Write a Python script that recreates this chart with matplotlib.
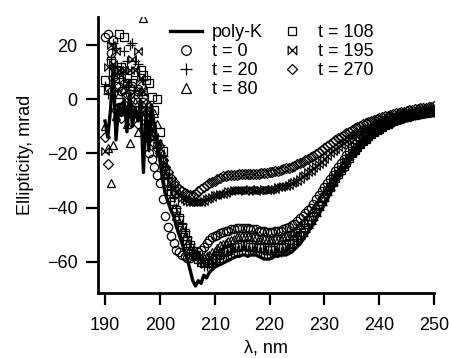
import numpy as np
import matplotlib
matplotlib.use("Agg")
import matplotlib.pyplot as plt
from matplotlib.path import Path

plt.rcParams['font.family'] = ['Liberation Sans', 'DejaVu Sans']

# wavelength grid (nm), 190 -> 250 in 0.5 nm steps
wavelength = np.arange(190.0, 250.01, 0.5)

poly_k = [
    -8, -14, -4, 12, -15, -2, -6, 0, -12, 2,
    -10, -3, -8, -1, -27, -4, -19, -2, -10, -18,
    -22, -30, -35, -38, -41, -43, -47, -50, -53, -56,
    -59, -63, -67, -69, -67, -68, -65, -66, -64, -63,
    -62, -61.5, -61, -60.5, -60, -59.5, -59, -58.5, -58, -58,
    -57.5, -57.5, -58, -57.5, -57.5, -57.5, -58, -58.5, -59, -59,
    -59, -58.5, -58, -58, -57.5, -57.5, -57.5, -57, -56.5, -55.5,
    -54.5, -53.5, -52, -50.5, -49, -47.5, -46, -44, -42.5, -40.5,
    -39, -37, -35, -33, -31, -29, -27.5, -26, -24.5, -23,
    -21.5, -20, -18.8, -17.6, -16.5, -15.5, -14.5, -13.6, -12.8, -12.1,
    -11.4, -10.7, -10.1, -9.5, -9, -8.5, -8.1, -7.7, -7.3, -7,
    -6.7, -6.4, -6.1, -5.9, -5.7, -5.5, -5.3, -5.1, -5, -4.9,
    -4.8]

t0 = [
    23, 24, 17, 22, 5, -3, 3, -2, 6, 2,
    5, -4, 4, -6, -1, -14, -20, -22, -25, -28,
    -31, -37, -43, -47, -50.5, -53, -55.5, -56.5, -57.5, -58,
    -58.5, -58.5, -58, -57.5, -56.5, -55.5, -54.5, -53, -52, -51,
    -50.5, -50, -49.5, -49, -48.5, -48.5, -48, -48, -47.5, -47.5,
    -47.5, -47.5, -47.5, -48, -48, -48, -48.5, -48.5, -48.5, -49,
    -49, -49, -48.5, -48.5, -48.5, -48, -47.5, -47, -46.5, -46,
    -45, -44, -43, -42, -41, -40, -38.5, -37, -35.5, -34,
    -32.5, -31, -29.5, -28, -26.5, -25, -23.5, -22, -20.5, -19,
    -17.5, -16.5, -15.5, -14.7, -14, -13.2, -12.5, -11.7, -11, -10.4,
    -9.8, -9.2, -8.7, -8.2, -7.8, -7.4, -7, -6.6, -6.3, -6,
    -5.7, -5.4, -5.2, -5, -4.8, -4.6, -4.4, -4.2, -4.1, -3.9,
    -3.8]

t20 = [
    5, 2, 15, 21, 19, 8, 12, 18, 14, 20,
    21, 14, 13, 3, 7, -3, -8, -12, -13, -15,
    -17, -21, -25, -29, -33, -36.5, -40, -43, -46, -48.5,
    -51, -53.5, -55.5, -57.5, -59.5, -60.5, -61.5, -61.5, -61, -60.5,
    -60, -59, -58.5, -58, -57.5, -57, -56.5, -56, -56, -55.5,
    -55.5, -55.5, -55.5, -56, -56, -56, -56.5, -56.5, -56.5, -57,
    -57, -57, -56.5, -56.5, -56.5, -56, -55.5, -55, -54.5, -53.5,
    -52.5, -51.5, -50.5, -49, -47.5, -46, -44.5, -43, -41, -39,
    -37.5, -35.5, -33.5, -31.5, -29.5, -28, -26.5, -25, -23.5, -22,
    -20.5, -19.2, -18, -16.9, -15.9, -14.9, -14, -13.2, -12.4, -11.7,
    -11, -10.3, -9.7, -9.2, -8.7, -8.2, -7.8, -7.4, -7.1, -6.8,
    -6.5, -6.2, -5.9, -5.7, -5.5, -5.3, -5.1, -4.9, -4.8, -4.7,
    -4.5]

t80 = [
    -10, -18, -31, -17, -6, 2, -3, 4, -9, -16,
    -5, -1, -12, 3, 30, -4, -6, -8, -5, -9,
    -16, -22, -28, -32, -36, -40, -43, -45.5, -48, -50.5,
    -53, -55, -56.5, -57.5, -58, -58.5, -58.5, -58, -57.5, -56.5,
    -56, -55, -54, -53.5, -53, -52.5, -52, -51.5, -51, -51,
    -50.5, -50.5, -50.5, -51, -51, -51, -51.5, -51.5, -51.5, -52,
    -52, -52, -51.5, -51.5, -51.5, -51, -50.5, -50, -49.5, -48.5,
    -47.5, -46.5, -45.5, -44.5, -43, -41.5, -40.5, -39, -37.5, -36,
    -34.5, -33, -31.5, -30, -28.5, -27, -25.5, -24, -22.5, -21,
    -19.5, -18.5, -17.3, -16.2, -15.2, -14.2, -13.4, -12.6, -11.8, -11.1,
    -10.4, -9.8, -9.2, -8.7, -8.2, -7.8, -7.4, -7, -6.7, -6.4,
    -6.1, -5.8, -5.6, -5.4, -5.2, -5, -4.8, -4.6, -4.5, -4.3,
    -4.2]

t108 = [
    7, 4, 14, 10, 11, 24, 12, 23, 8, 4,
    6, 10, 2, 11, 9, 7, 6, 1, -4, 0,
    -12, -19, -26, -30, -34, -37.5, -41, -44, -47, -49.5,
    -52, -54, -56, -57.5, -59, -60, -60.5, -60.5, -60, -59.5,
    -58.5, -57.5, -57, -56.5, -56, -55.5, -55, -54.5, -54.5, -54,
    -54, -54, -54, -54.5, -54.5, -54.5, -55, -55, -55, -55.5,
    -55.5, -55.5, -55, -55, -55, -54.5, -54, -53.5, -53, -52,
    -51, -50, -49, -47.5, -46, -44.5, -43, -41.5, -39.5, -37.5,
    -36, -34, -32.5, -30.5, -29, -27.5, -26, -24.5, -23, -21.5,
    -20, -18.8, -17.6, -16.5, -15.5, -14.6, -13.7, -12.9, -12.1, -11.4,
    -10.8, -10.1, -9.5, -9, -8.5, -8.1, -7.7, -7.3, -7, -6.7,
    -6.4, -6.1, -5.9, -5.7, -5.5, -5.3, -5.1, -4.9, -4.8, -4.7,
    -4.6]

t195 = [
    -19, 12, 20, 13, 18, 11, 9, 11, 6, 11,
    15, 11, 18, 8, 3, -2, -8, -11, -14, -17,
    -20, -23, -26, -28.5, -31, -33, -34.5, -35.5, -36.5, -37,
    -37.5, -38, -38, -38, -38, -38, -37.5, -37, -36.5, -36,
    -35.5, -35.5, -35, -35, -34.5, -34, -34, -33.5, -33.5, -33.5,
    -33.5, -34, -33.5, -33, -33.5, -34, -33.5, -33.5, -33, -33.5,
    -33.5, -33, -33, -32.5, -32.5, -32, -32, -31.5, -31, -30.5,
    -30, -29.3, -28.5, -27.8, -27, -26.3, -25.5, -24.8, -24, -23,
    -22, -21, -20, -19.2, -18.3, -17.5, -16.8, -16, -15.3, -14.6,
    -14, -13.3, -12.7, -12.1, -11.5, -10.9, -10.4, -9.9, -9.4, -8.9,
    -8.5, -8.1, -7.7, -7.3, -7, -6.7, -6.4, -6.1, -5.8, -5.5,
    -5.3, -5, -4.8, -4.6, -4.4, -4.2, -4, -3.8, -3.7, -3.5,
    -3.4]

t270 = [
    -14, -24, 3, 8, -4, 5, -7, 6, 2, -3,
    4, 0, -9, 5, 1, -5, -10, -13, -16, -18,
    -20, -22.5, -25, -27, -29, -30.5, -32, -33, -34, -34.5,
    -35, -35.5, -35.5, -35, -34, -33, -32.5, -31.5, -31, -30.5,
    -30, -29.5, -29, -28.5, -28.5, -28, -28, -28, -28, -27.5,
    -27.5, -27.5, -27.5, -27.5, -27.5, -27.5, -27.5, -27.3, -27.3, -27.3,
    -27, -26.8, -26.5, -26.3, -26, -25.8, -25.5, -25.3, -25, -24.5,
    -24, -23.5, -23, -22.5, -22, -21.4, -20.8, -20.2, -19.5, -18.8,
    -18, -17.3, -16.5, -15.8, -15, -14.4, -13.8, -13.1, -12.5, -11.9,
    -11.3, -10.7, -10.2, -9.7, -9.2, -8.8, -8.4, -8, -7.6, -7.2,
    -6.9, -6.6, -6.3, -6, -5.7, -5.4, -5.2, -5, -4.7, -4.5,
    -4.3, -4.1, -3.9, -3.7, -3.5, -3.3, -3.2, -3.1, -2.9, -2.8,
    -2.6]

x_ticks = [190, 200, 210, 220, 230, 240, 250]
y_ticks = [-60, -40, -20, 0, 20]

# bowtie marker
bowtie = Path([(-1, 1), (-1, -1), (1, 1), (1, -1), (-1, 1)],
              [Path.MOVETO, Path.LINETO, Path.LINETO, Path.LINETO, Path.CLOSEPOLY])

series = [
    ("t = 0", t0, 'o', 6.0),
    ("t = 20", t20, '+', 7.5),
    ("t = 80", t80, '^', 6.2),
    ("t = 108", t108, 's', 5.6),
    ("t = 195", t195, bowtie, 5.4),
    ("t = 270", t270, 'D', 4.6),
]

FS = 13

fig = plt.figure(figsize=(4.49, 3.58), dpi=100)
ax = fig.add_axes([0.218, 0.182, 0.749, 0.771])

handles = []
line, = ax.plot(wavelength, poly_k, color='black', lw=2.4, zorder=5, label='poly-K')
handles.append(line)
for label, vals, mk, ms in series:
    h, = ax.plot(wavelength, vals, linestyle='none', marker=mk, markersize=ms,
                 markerfacecolor='none', markeredgecolor='black',
                 markeredgewidth=0.9, label=label, zorder=3)
    handles.append(h)

ax.set_xlim(188.7, 250)
ax.set_ylim(-71.5, 30.5)
ax.set_xticks(x_ticks)
ax.set_yticks(y_ticks)
for s in ['top', 'right']:
    ax.spines[s].set_visible(False)
for s in ['left', 'bottom']:
    ax.spines[s].set_linewidth(2.0)
ax.tick_params(axis='both', direction='out', length=8.5, width=1.6,
               labelsize=FS, color='black')
ax.tick_params(axis='x', pad=9)
ax.tick_params(axis='y', pad=6)

ax.set_xlabel('λ, nm', fontsize=FS, labelpad=4)
ax.set_ylabel('Ellipticity, mrad', fontsize=FS, labelpad=9)

leg = ax.legend(handles=handles, ncol=2, frameon=False, fontsize=FS,
                loc='upper left', bbox_to_anchor=(170 / 449, 1 - 24 / 358),
                bbox_transform=fig.transFigure, borderpad=0, borderaxespad=0,
                handlelength=1.75, handletextpad=0.55, columnspacing=0.75,
                labelspacing=0.12, markerscale=1.15)

fig.savefig('out.png', dpi=100)
